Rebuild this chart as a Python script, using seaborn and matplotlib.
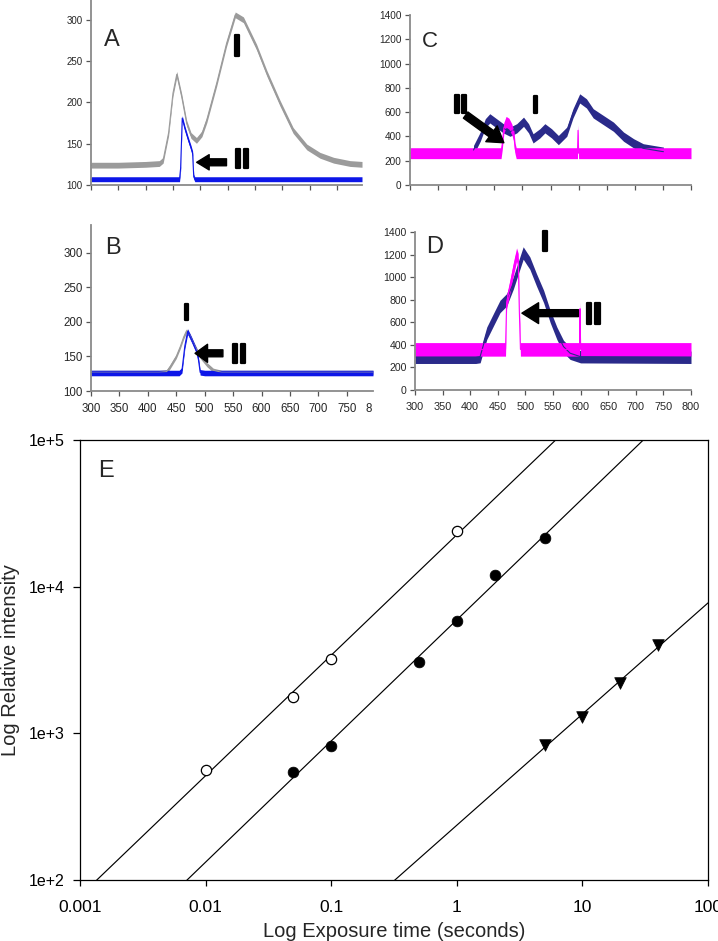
import numpy as np
import pandas as pd
import matplotlib
matplotlib.use("Agg")
import matplotlib.pyplot as plt
import matplotlib.patheffects as pe
from matplotlib.transforms import Bbox, TransformedBbox
import seaborn as sns

sns.set_style("ticks")
plt.rcParams["font.family"] = ["Liberation Sans", "DejaVu Sans"]

# ---------------- data: spectra (wavelength nm, intensity, noise half-width) ----------------
A_wl_I = [300, 350, 400, 425, 432, 442, 450, 457, 466, 475, 483, 493, 503, 512, 530, 548,
          564, 579, 603, 622, 646, 670, 695, 719, 744, 774, 796]
A_I = [124, 124, 125, 126, 130, 163, 211, 234, 207, 175, 160, 154, 162, 179, 223, 271,
       306, 300, 267, 235, 199, 166, 146, 136, 130, 126, 125]
A_I_noise = 3.5
A_wl_II = [300, 400, 462, 464, 467, 472, 478, 483, 486, 488, 490, 600, 796]
A_II = [107, 107, 107, 120, 181, 168, 155, 145, 138, 110, 107, 107, 107]
A_II_noise = 3.0

B_wl_I = [300, 420, 433, 439, 450, 457, 463, 468, 474, 480, 492, 504, 515, 530, 796]
B_I = [127, 127, 128, 135, 150, 164, 178, 187, 180, 169, 150, 138, 130, 127, 127]
B_I_noise = 3.0
B_wl_II = [300, 455, 460, 465, 470, 477, 486, 489, 492, 500, 796]
B_II = [126, 126, 130, 165, 186, 174, 157, 145, 127, 126, 126]
B_II_noise = 4.0

C_wl_I = [413, 425, 434, 442, 454, 466, 478, 490, 502, 511, 519, 531, 540, 552, 564, 579,
          590, 602, 614, 626, 644, 662, 680, 698, 715, 733, 751]
C_I = [288, 398, 508, 549, 508, 467, 439, 467, 521, 467, 384, 425, 467, 425, 370, 439,
       590, 713, 672, 590, 535, 480, 398, 343, 302, 288, 274]
C_I_noise = 38
C_wl_II = [300, 462, 464, 467, 471, 476, 481, 485, 487, 489, 598, 599, 600, 800]
C_II = [262, 262, 330, 470, 520, 505, 460, 400, 300, 262, 262, 450, 262, 262]
C_II_noise = 45

D_wl_I = [300, 410, 418, 430, 442, 454, 466, 478, 490, 496, 502, 508, 520, 533, 545, 557,
          569, 581, 600, 800]
D_I = [290, 290, 296, 503, 622, 740, 799, 947, 1125, 1214, 1169, 1125, 977, 829, 651, 503,
       385, 326, 295, 290]
D_I_noise = 55
D_wl_II = [300, 464, 466, 472, 478, 484, 487, 489, 491, 598, 599, 600, 800]
D_II = [360, 360, 780, 917, 1066, 1199, 1150, 700, 360, 360, 720, 360, 360]
D_II_noise = 60

spec_ticks_x = [300, 350, 400, 450, 500, 550, 600, 650, 700, 750, 800]
AB_ticks_y = [100, 150, 200, 250, 300]
CD_ticks_y = [0, 200, 400, 600, 800, 1000, 1200, 1400]

# ---------------- data: panel E (exposure time s, relative intensity) ----------------
E_open_t = [0.01, 0.05, 0.1, 1]
E_open_I = [562, 1760, 3215, 24000]
E_fill_t = [0.05, 0.1, 0.5, 1, 2, 5]
E_fill_I = [548, 820, 3055, 5860, 12000, 21600]
E_tri_t = [5, 10, 20, 40]
E_tri_I = [830, 1300, 2220, 4000]
E_xticks = [0.001, 0.01, 0.1, 1, 10, 100]
E_xticklabels = ["0.001", "0.01", "0.1", "1", "10", "100"]
E_yticks = [1e2, 1e3, 1e4, 1e5]
E_yticklabels = ["1e+2", "1e+3", "1e+4", "1e+5"]

GRAY = "#9b9b9b"
BLUE = "#0d16e8"
NAVY = "#2a2a8a"
MAG = "#ff00ff"
SPINE = "#8a8a8a"
TXT = "#262626"

W, H = 718, 941
fig = plt.figure(figsize=(W / 100, H / 100), dpi=100)


def add_axes(left, top, right, bottom):
    return fig.add_axes([left / W, 1 - bottom / H, (right - left) / W, (bottom - top) / H])


def spectrum(ax, wl, val, noise, color):
    wl = np.asarray(wl, float)
    val = np.asarray(val, float)
    ax.fill_between(wl, val - noise, val + noise, color=color, lw=0)
    sns.lineplot(x=wl, y=val, ax=ax, color=color, lw=0.8, sort=False, estimator=None)


def style_spec(ax, xlim, ylim, yticks, xlabels, ylabelsize, xlabelsize):
    ax.set_xlim(*xlim)
    ax.set_ylim(*ylim)
    ax.set_xticks([t for t in spec_ticks_x if xlim[0] <= t <= xlim[1]])
    ax.set_yticks(yticks)
    for s in ["top", "right"]:
        ax.spines[s].set_visible(False)
    for s in ["left", "bottom"]:
        ax.spines[s].set_color(SPINE)
        ax.spines[s].set_linewidth(1.3)
    ax.tick_params(axis="y", direction="out", length=3.5, width=0.9, color="#555555",
                   labelsize=ylabelsize, labelcolor=TXT, pad=2.5)
    ax.tick_params(axis="x", direction="out", length=3.5, width=0.9, color="#555555",
                   labelsize=xlabelsize, labelcolor=TXT, pad=5.5, labelbottom=xlabels)
    ax.set_xlabel("")
    ax.set_ylabel("")
    ax.patch.set_alpha(0)


def roman(ax, x, y, s, size):
    ax.text(x, y, s, ha="center", va="center", fontsize=size, fontweight="bold",
            color="black", path_effects=[pe.withStroke(linewidth=1.6, foreground="black")])


def arrow(ax, tail, tip, width, hw, hl):
    ax.annotate("", xy=tip, xytext=tail,
                arrowprops=dict(facecolor="black", edgecolor="black", width=width,
                                headwidth=hw, headlength=hl, shrink=0))


# ---------------- Panel A ----------------
axA = add_axes(91, 0, 362, 185)
spectrum(axA, A_wl_I, A_I, A_I_noise, GRAY)
spectrum(axA, A_wl_II, A_II, A_II_noise, BLUE)
style_spec(axA, (300, 796), (100, 324), AB_ticks_y, False, 7, 7)
axA.text(339, 275, "A", ha="center", va="center", fontsize=17)
roman(axA, 567, 266, "I", 22)
roman(axA, 577, 129, "II", 20)
arrow(axA, (548, 127.5), (493.4, 127.5), 5, 11, 9)

# ---------------- Panel B ----------------
axB = add_axes(91, 225, 373, 391)
spectrum(axB, B_wl_I, B_I, B_I_noise, GRAY)
spectrum(axB, B_wl_II, B_II, B_II_noise, BLUE)
style_spec(axB, (300, 796), (100, 340), AB_ticks_y, True, 8.3, 8.3)
axB.text(338, 307, "B", ha="center", va="center", fontsize=17)
roman(axB, 468.5, 212, "I", 17)
roman(axB, 560, 150, "II", 20)
arrow(axB, (532, 154.5), (483, 154.5), 5, 13, 9)
lbl800 = axB.annotate("800", xy=(800, 0), xycoords=("data", "axes fraction"),
                      xytext=(0, -9), textcoords="offset points", ha="center", va="top",
                      fontsize=8.3, color=TXT, annotation_clip=False)
lbl800.set_clip_box(TransformedBbox(Bbox([[0, 0], [372 / W, 1]]), fig.transFigure))
lbl800.set_clip_on(True)

# ---------------- Panel C ----------------
axC = add_axes(410, 15, 691, 185)
spectrum(axC, C_wl_I, C_I, C_I_noise, NAVY)
spectrum(axC, C_wl_II, C_II, C_II_noise, MAG)
style_spec(axC, (300, 800), (0, 1400), CD_ticks_y, False, 7.2, 7.2)
axC.text(336, 1185, "C", ha="center", va="center", fontsize=16)
roman(axC, 390, 650, "II", 19)
roman(axC, 523, 650, "I", 18)
arrow(axC, (399, 576), (467, 348), 5.5, 14, 11)

# ---------------- Panel D ----------------
axD = add_axes(415, 232, 691, 390)
spectrum(axD, D_wl_I, D_I, D_I_noise, NAVY)
spectrum(axD, D_wl_II, D_II, D_II_noise, MAG)
style_spec(axD, (300, 800), (0, 1400), CD_ticks_y, True, 7.6, 7.8)
axD.text(336, 1270, "D", ha="center", va="center", fontsize=17)
roman(axD, 535, 1300, "I", 21)
roman(axD, 623, 655, "II", 22)
arrow(axD, (596, 681), (493.7, 681), 5, 15, 12)

# ---------------- Panel E ----------------
axE = add_axes(80, 440, 708, 880)
axE.set_xscale("log")
axE.set_yscale("log")
fit_x = np.logspace(-3, 2, 60)
for t, inten in [(E_open_t, E_open_I), (E_fill_t, E_fill_I), (E_tri_t, E_tri_I)]:
    coef = np.polyfit(np.log10(t), np.log10(inten), 1)
    sns.lineplot(x=fit_x, y=10 ** np.polyval(coef, np.log10(fit_x)), ax=axE,
                 color="black", lw=0.85, sort=False, estimator=None)
sns.scatterplot(x=E_open_t, y=E_open_I, ax=axE, marker="o", s=55, facecolor="white",
                edgecolor="black", linewidth=0.9, zorder=3)
sns.scatterplot(x=E_fill_t, y=E_fill_I, ax=axE, marker="o", s=60, color="black",
                edgecolor="black", linewidth=0.5, zorder=3)
sns.scatterplot(x=E_tri_t, y=E_tri_I, ax=axE, marker="v", s=70, color="black",
                edgecolor="black", linewidth=0.5, zorder=3)
axE.set_xlim(1e-3, 1e2)
axE.set_ylim(1e2, 1e5)
axE.set_xticks(E_xticks)
axE.set_xticklabels(E_xticklabels)
axE.set_yticks(E_yticks)
axE.set_yticklabels(E_yticklabels)
axE.minorticks_off()
for s in axE.spines.values():
    s.set_color("black")
    s.set_linewidth(0.9)
axE.tick_params(axis="x", direction="out", length=4.5, width=0.9, labelsize=12.5,
                color="black", labelcolor="black", pad=10)
axE.tick_params(axis="y", direction="out", length=5, width=0.9, labelsize=11.5,
                color="black", labelcolor="black", pad=6)
axE.set_xlabel("Log Exposure time (seconds)", fontsize=14.5)
axE.set_ylabel("Log Relative intensity", fontsize=14.5)
axE.xaxis.set_label_coords(0.5, -0.095)
axE.yaxis.set_label_coords(-0.095, 0.5)
axE.text(0.042, 0.93, "E", transform=axE.transAxes, ha="center", va="center", fontsize=17)

fig.savefig("out.png", dpi=100)
